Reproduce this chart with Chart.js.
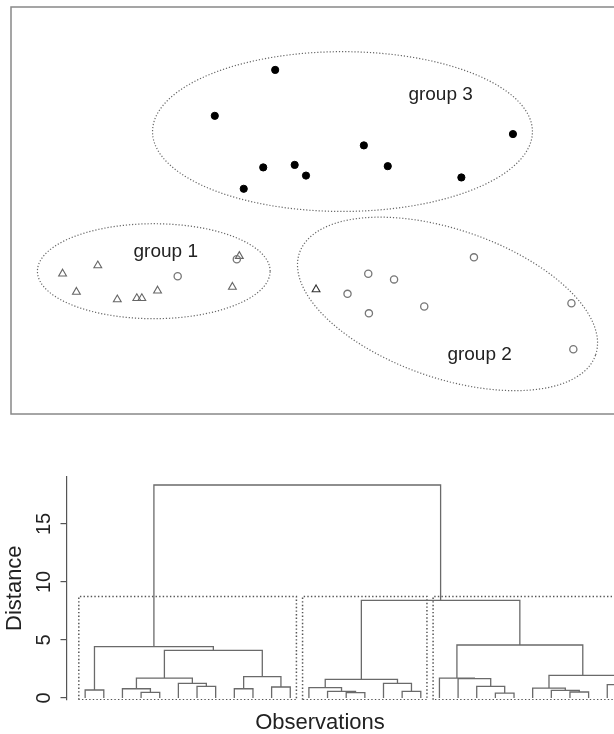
<!DOCTYPE html>
<html>
<head>
<meta charset="utf-8">
<script src="https://cdn.jsdelivr.net/npm/chart.js@4.4.0/dist/chart.umd.min.js"></script>
<style>
  html, body { margin: 0; padding: 0; background: #fff; overflow: hidden; width: 614px; height: 734px; }
  #scatter { position: absolute; left: 0; top: 0; }
  #dendro { position: absolute; left: 0; top: 470px; }
</style>
</head>
<body>
<canvas id="scatter" width="680" height="420"></canvas>
<canvas id="dendro" width="680" height="266"></canvas>
<script>
/* global Chart */
// scatter panel: observations (arbitrary plot units)
const group3X = [4.20, 3.24, 7.98, 5.61, 4.01, 4.51, 4.69, 5.99, 7.16, 3.70];
const group3Y = [5.47, 4.74, 4.45, 4.27, 3.92, 3.96, 3.79, 3.94, 3.76, 3.58];
const circleX = [2.65, 3.59, 7.36, 5.68, 6.09, 5.35, 5.69, 6.57, 8.91, 8.94];
const circleY = [2.19, 2.46, 2.49, 2.23, 2.14, 1.91, 1.60, 1.71, 1.76, 1.03];
const triangleX = [0.82, 1.38, 1.04, 1.69, 2.00, 2.08, 2.33, 3.52, 3.63, 4.85];
const triangleY = [2.23, 2.36, 1.94, 1.82, 1.84, 1.84, 1.96, 2.02, 2.51, 1.98];

// group ellipses and their labels
const groupNames = ["group 1", "group 2", "group 3"];
const ellipseCx = [2.27, 6.94, 5.27];
const ellipseCy = [2.27, 1.75, 4.49];
const ellipseRx = [1.85, 2.49, 3.02];
const ellipseRy = [0.755, 1.18, 1.27];
const ellipseAngle = [0, -19, 0];
const labelX = [2.46, 7.45, 6.83];
const labelY = [2.50, 0.86, 4.99];

// dendrogram: hclust style merge table (negative = leaf position)
const mergeA = [-1, -4, -3, -7, -6, 3, -9, -11, 7, 6, 1, -15, -14, -13, -18, -17, 14, -23, -22, -21, -20, -27, -26, -25, -29, 24, 21, 17, 11];
const mergeB = [-2, -5, 2, -8, 4, 5, -10, -12, 8, 9, 10, -16, 12, 13, -19, 15, 16, -24, 18, 19, 20, -28, 22, 23, -30, 25, 26, 27, 28];
const mergeHeight = [0.69, 0.49, 0.80, 1.00, 1.26, 1.72, 0.80, 0.95, 1.84, 4.11, 4.43, 0.46, 0.57, 0.89, 0.57, 1.26, 1.61, 0.43, 1.00, 1.67, 1.72, 0.52, 0.66, 0.86, 1.15, 1.95, 4.57, 8.42, 18.36];
const boxLeft = [0.66, 12.66, 19.66];
const boxRight = [12.33, 19.33, 30.33];
const boxTop = 8.75;
const distanceTicks = [0, 5, 10, 15];

const family = '"Liberation Sans", Arial, Helvetica, sans-serif';
const zip = (xs, ys) => xs.map((v, i) => ({ x: v, y: ys[i] }));

const scatterDecor = {
  id: "scatterDecor",
  afterDatasetsDraw(chart) {
    const { ctx, chartArea } = chart;
    const xs = chart.scales.x, ys = chart.scales.y;
    ctx.save();
    ctx.strokeStyle = "#666";
    ctx.lineWidth = 1.2;
    ctx.setLineDash([1.2, 1.9]);
    ellipseCx.forEach((cx, i) => {
      const a = (ellipseAngle[i] * Math.PI) / 180;
      ctx.beginPath();
      for (let k = 0; k <= 180; k++) {
        const t = (k / 180) * 2 * Math.PI;
        const dx = ellipseRx[i] * Math.cos(t);
        const dy = ellipseRy[i] * Math.sin(t);
        const px = xs.getPixelForValue(cx + dx * Math.cos(a) - dy * Math.sin(a));
        const py = ys.getPixelForValue(ellipseCy[i] + dx * Math.sin(a) + dy * Math.cos(a));
        if (k === 0) ctx.moveTo(px, py);
        else ctx.lineTo(px, py);
      }
      ctx.stroke();
    });
    ctx.setLineDash([]);
    ctx.fillStyle = "#222";
    ctx.font = "19px " + family;
    ctx.textAlign = "center";
    ctx.textBaseline = "alphabetic";
    groupNames.forEach((name, i) => {
      ctx.fillText(name, xs.getPixelForValue(labelX[i]), ys.getPixelForValue(labelY[i]));
    });
    ctx.strokeStyle = "#888";
    ctx.lineWidth = 1.5;
    ctx.strokeRect(chartArea.left, chartArea.top, chartArea.width, chartArea.height);
    ctx.restore();
  },
};

new Chart(document.getElementById("scatter"), {
  type: "scatter",
  data: {
    datasets: [
      {
        label: "group 3",
        data: zip(group3X, group3Y),
        pointStyle: "circle",
        pointRadius: 3.6,
        pointBackgroundColor: "#000",
        pointBorderColor: "#000",
        pointBorderWidth: 1,
      },
      {
        label: "circles",
        data: zip(circleX, circleY),
        pointStyle: "circle",
        pointRadius: 3.6,
        pointBackgroundColor: "rgba(0,0,0,0)",
        pointBorderColor: "#777",
        pointBorderWidth: 1.3,
      },
      {
        label: "triangles",
        data: zip(triangleX, triangleY),
        pointStyle: "triangle",
        pointRadius: 4.5,
        pointBackgroundColor: "rgba(0,0,0,0)",
        pointBorderColor: triangleX.map((v, i) => (i === triangleX.length - 1 ? "#333" : "#666")),
        pointBorderWidth: 1.1,
      },
    ],
  },
  options: {
    responsive: false,
    animation: false,
    events: [],
    layout: { padding: { left: 11, top: 7, right: 40, bottom: 6 } },
    plugins: { legend: { display: false }, tooltip: { enabled: false } },
    scales: {
      x: { display: false, min: 0, max: 10 },
      y: { display: false, min: 0, max: 6.47 },
    },
  },
  plugins: [scatterDecor],
});

// build the dendrogram segments from the merge table
const nodeX = [];
const posOf = (i) => (i < 0 ? -i : nodeX[i - 1]);
const heightOf = (i) => (i < 0 ? 0 : mergeHeight[i - 1]);
const dendroSets = [];
mergeA.forEach((a, k) => {
  const b = mergeB[k];
  const h = mergeHeight[k];
  nodeX.push((posOf(a) + posOf(b)) / 2);
  dendroSets.push({
    data: [
      { x: posOf(a), y: heightOf(a) },
      { x: posOf(a), y: h },
      { x: posOf(b), y: h },
      { x: posOf(b), y: heightOf(b) },
    ],
    showLine: true,
    pointRadius: 0,
    borderColor: "#6a6a6a",
    borderWidth: 1.3,
    tension: 0,
  });
});
boxLeft.forEach((l, i) => {
  const r = boxRight[i];
  dendroSets.push({
    data: [
      { x: l, y: -0.15 },
      { x: l, y: boxTop },
      { x: r, y: boxTop },
      { x: r, y: -0.15 },
      { x: l, y: -0.15 },
    ],
    showLine: true,
    pointRadius: 0,
    borderColor: "#555",
    borderWidth: 1.5,
    borderDash: [1.4, 2.2],
    tension: 0,
  });
});

const dendroText = {
  id: "dendroText",
  afterDraw(chart) {
    const { ctx } = chart;
    const ys = chart.scales.y;
    ctx.save();
    ctx.fillStyle = "#222";
    ctx.font = "20px " + family;
    ctx.textAlign = "center";
    ctx.textBaseline = "middle";
    distanceTicks.forEach((v) => {
      ctx.save();
      ctx.translate(44, ys.getPixelForValue(v));
      ctx.rotate(-Math.PI / 2);
      ctx.fillText(String(v), 0, 0);
      ctx.restore();
    });
    ctx.font = "22px " + family;
    ctx.fillText("Observations", 320, 253);
    ctx.restore();
  },
};

new Chart(document.getElementById("dendro"), {
  type: "scatter",
  data: { datasets: dendroSets },
  options: {
    responsive: false,
    animation: false,
    events: [],
    layout: { padding: { left: 0, top: 6.4, right: 16.8, bottom: 36 } },
    plugins: { legend: { display: false }, tooltip: { enabled: false } },
    scales: {
      x: { display: false, min: 0, max: 32 },
      y: {
        min: -0.17,
        max: 19.1,
        afterBuildTicks: (s) => {
          s.ticks = distanceTicks.map((v) => ({ value: v }));
        },
        afterFit: (s) => {
          s.width = 66.5;
        },
        border: { color: "#555", width: 1.2 },
        grid: { drawOnChartArea: false, drawTicks: true, tickLength: 6, color: "#555", lineWidth: 1.2 },
        ticks: { display: false },
        title: {
          display: true,
          text: "Distance",
          color: "#222",
          font: { size: 22, family: family },
          padding: { top: 2, bottom: 0 },
        },
      },
    },
  },
  plugins: [dendroText],
});
</script>
</body>
</html>
